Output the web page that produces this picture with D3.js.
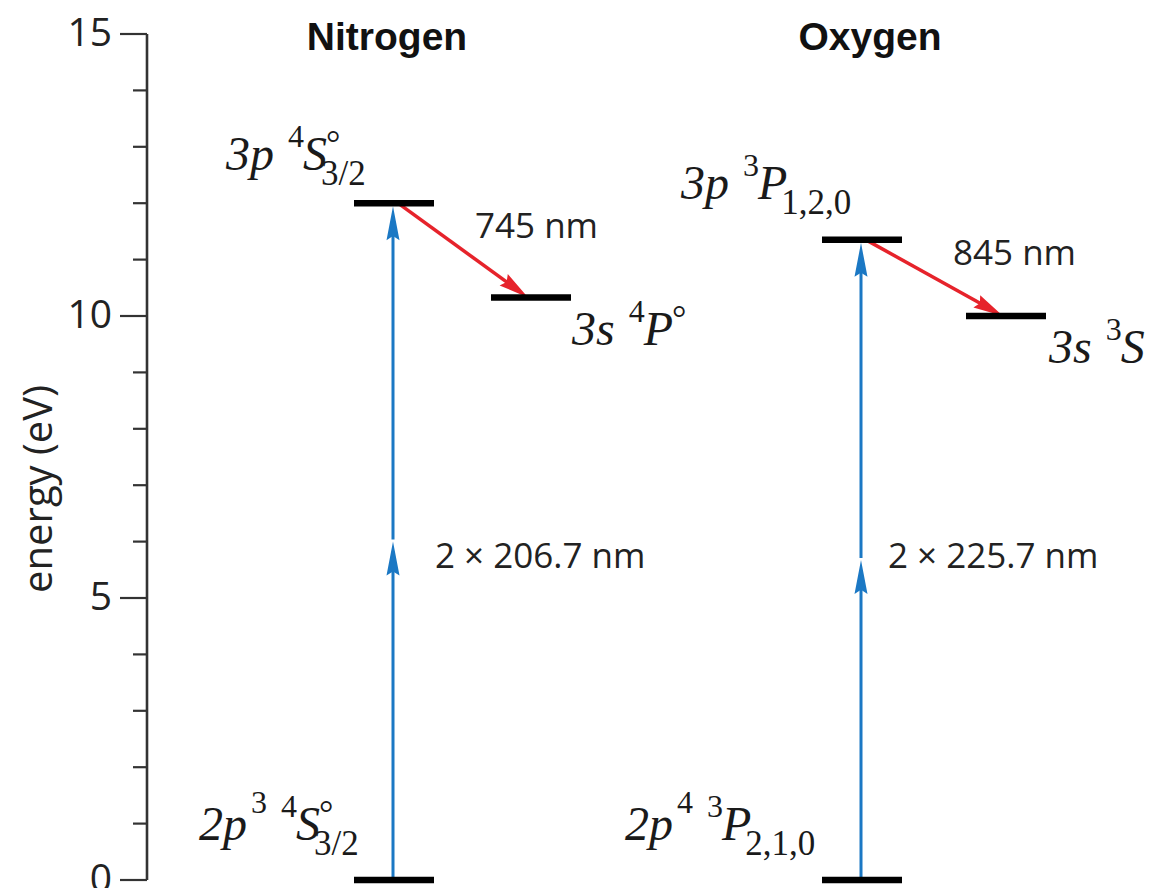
<!DOCTYPE html>
<html>
<head>
<meta charset="utf-8">
<script src="https://cdn.jsdelivr.net/npm/d3@7"></script>
<style>
  html, body { margin: 0; padding: 0; background: #fff; }
  svg { display: block; }
  .tick-label { font-family: "Open Sans", sans-serif; font-size: 39px; fill: #222; }
  .axis-title { font-family: "Open Sans", sans-serif; font-size: 40px; fill: #222; }
  .atom-title { font-family: "Liberation Sans", Arial, sans-serif; font-weight: bold; font-size: 39px; fill: #111; }
  .wl { font-family: "Open Sans", sans-serif; font-size: 35px; fill: #222; }
  .term { font-family: "Liberation Serif", "Times New Roman", serif; fill: #1a1a1a; }
</style>
</head>
<body>
<svg id="chart" width="1149" height="888"></svg>
<script>
// Energy levels (eV) for the two-photon excitation schemes
const atoms = ["Nitrogen", "Oxygen"];
const groundEnergy = [0, 0];
const upperEnergy = [12.0, 11.35];
const lowerEnergy = [10.33, 10.0];
const pumpLabels = ["2 × 206.7 nm", "2 × 225.7 nm"];
const emissionLabels = ["745 nm", "845 nm"];
const majorTicks = [0, 5, 10, 15];
const minorTicks = [1, 2, 3, 4, 6, 7, 8, 9, 11, 12, 13, 14];
// term symbols: [configuration, configuration exponent, multiplicity, L, odd parity, J]
const groundTerms = [["2p", "3", "4", "S", true, "3/2"], ["2p", "4", "3", "P", false, "2,1,0"]];
const upperTerms  = [["3p", "",  "4", "S", true, "3/2"], ["3p", "",  "3", "P", false, "1,2,0"]];
const lowerTerms  = [["3s", "",  "4", "P", true, ""],    ["3s", "",  "3", "S", false, ""]];

// layout
const svg = d3.select("#chart");
const y = d3.scaleLinear().domain([0, 15]).range([880, 34]);
const axisX = 147;
const col = d3.scaleOrdinal().domain(atoms).range([394, 862]);      // ground / upper level centres
const lowerCol = d3.scaleOrdinal().domain(atoms).range([531, 1006]); // lower level centres
const titleX = [387, 870];
const barHalf = 40;
const blue = "#1b78c4";
const red = "#e6232b";

// energy axis
const axisG = svg.append("g").attr("transform", `translate(${axisX},0)`);
axisG.append("line")
  .attr("x1", 0).attr("x2", 0).attr("y1", y(0)).attr("y2", y(15))
  .attr("stroke", "#333").attr("stroke-width", 2.6);
axisG.selectAll("line.minor").data(minorTicks).join("line")
  .attr("class", "minor")
  .attr("x1", -14).attr("x2", 0).attr("y1", d => y(d)).attr("y2", d => y(d))
  .attr("stroke", "#333").attr("stroke-width", 2.2);
axisG.selectAll("line.major").data(majorTicks).join("line")
  .attr("class", "major")
  .attr("x1", -27).attr("x2", 0).attr("y1", d => y(d)).attr("y2", d => y(d))
  .attr("stroke", "#333").attr("stroke-width", 2.2);
axisG.selectAll("text").data(majorTicks).join("text")
  .attr("class", "tick-label")
  .attr("x", -35).attr("y", d => y(d)).attr("dy", "0.3em")
  .attr("text-anchor", "end")
  .text(d => d);

svg.append("text")
  .attr("class", "axis-title")
  .attr("transform", `translate(52,${y(7.5) + 32}) rotate(-90)`)
  .attr("text-anchor", "middle")
  .text("energy (eV)");

// atom titles
svg.selectAll("text.atom-title").data(atoms).join("text")
  .attr("class", "atom-title")
  .attr("x", (d, i) => titleX[i]).attr("y", 50)
  .attr("text-anchor", "middle")
  .text(d => d);

// arrow helper: shaft plus a slim, slightly notched head ending at (x2, y2)
function arrow(g, x1, y1, x2, y2, color, width, len, hw) {
  const dx = x2 - x1, dy = y2 - y1, L = Math.hypot(dx, dy);
  const ux = dx / L, uy = dy / L;
  const bx = x2 - ux * len, by = y2 - uy * len;
  g.append("line")
    .attr("x1", x1).attr("y1", y1)
    .attr("x2", bx + ux * len * 0.3).attr("y2", by + uy * len * 0.3)
    .attr("stroke", color).attr("stroke-width", width);
  const nx = bx + ux * len * 0.12, ny = by + uy * len * 0.12;
  g.append("path")
    .attr("d", `M${x2},${y2}L${bx - uy * hw},${by + ux * hw}L${nx},${ny}L${bx + uy * hw},${by - ux * hw}Z`)
    .attr("fill", color);
}

const arrows = svg.append("g");
atoms.forEach((a, i) => {
  const x = col(a) - 1;
  const mid = (groundEnergy[i] + upperEnergy[i]) / 2;
  // two-photon pump: two stacked photons
  arrow(arrows, x, y(groundEnergy[i]), x, y(mid), blue, 3, 34, 6.5);
  arrow(arrows, x, y(mid) - 2, x, y(upperEnergy[i]) + 3, blue, 3, 34, 6.5);
  // fluorescence
  arrow(arrows, col(a) + 4, y(upperEnergy[i]), lowerCol(a) - 3, y(lowerEnergy[i]), red, 3.5, 30, 7);
});

// level bars
const levels = svg.append("g");
atoms.forEach((a, i) => {
  [[col(a), groundEnergy[i]], [col(a), upperEnergy[i]], [lowerCol(a), lowerEnergy[i]]].forEach(([cx, e]) => {
    levels.append("line")
      .attr("x1", cx - barHalf).attr("x2", cx + barHalf)
      .attr("y1", y(e)).attr("y2", y(e))
      .attr("stroke", "#000").attr("stroke-width", 6.5);
  });
});

// wavelength labels
const pumpPos = [[435, 568], [888, 568]];
const emisPos = [[475, 238], [953, 265]];
svg.selectAll("text.pump").data(pumpLabels).join("text")
  .attr("class", "wl pump")
  .attr("x", (d, i) => pumpPos[i][0]).attr("y", (d, i) => pumpPos[i][1])
  .text(d => d);
svg.selectAll("text.emis").data(emissionLabels).join("text")
  .attr("class", "wl emis")
  .attr("x", (d, i) => emisPos[i][0]).attr("y", (d, i) => emisPos[i][1])
  .text(d => d);

// spectroscopic term labels
const MAIN = 48, SUP = 32, SUB = 35;
function piece(g, x, yy, txt, size, italic) {
  const t = g.append("text").attr("class", "term")
    .attr("x", x).attr("y", yy)
    .style("font-size", size + "px")
    .style("font-style", italic ? "italic" : "normal")
    .text(txt);
  return t.node().getComputedTextLength();
}
function drawTerm(x, yy, term) {
  const [cfg, cfgExp, mult, L, odd, J] = term;
  const g = svg.append("g");
  let cx = x;
  cx += piece(g, cx, yy, cfg, MAIN, true);
  if (cfgExp) cx += piece(g, cx + 4, yy - 27, cfgExp, SUP, false) + 4;
  cx += 14;
  cx += piece(g, cx, yy - 23, mult, SUP, false);
  cx += piece(g, cx - 1, yy, L, MAIN, true) - 1;
  if (odd) piece(g, cx - 1, yy - 15, "°", SUP + 4, false);
  if (J) piece(g, cx - 6, yy + 15, J, SUB, false);
}
const groundPos = [[199, 840], [625, 840]];
const upperPos = [[226, 170], [681, 199]];
const lowerPos = [[572, 345], [1049, 363]];
atoms.forEach((a, i) => {
  drawTerm(groundPos[i][0], groundPos[i][1], groundTerms[i]);
  drawTerm(upperPos[i][0], upperPos[i][1], upperTerms[i]);
  drawTerm(lowerPos[i][0], lowerPos[i][1], lowerTerms[i]);
});
</script>
</body>
</html>
